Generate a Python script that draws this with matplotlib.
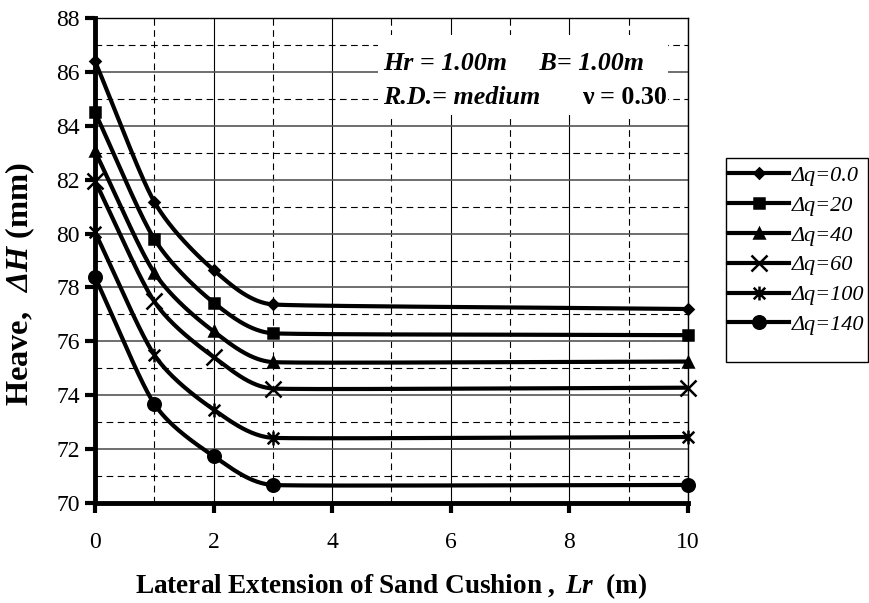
import numpy as np
import matplotlib
matplotlib.use("Agg")
from matplotlib import pyplot as plt
from matplotlib.path import Path
from matplotlib.lines import Line2D
from matplotlib.patches import Rectangle

plt.rcParams['font.family'] = ['Liberation Serif', 'DejaVu Serif']
plt.rcParams['mathtext.fontset'] = 'custom'
plt.rcParams['mathtext.rm'] = 'Liberation Serif'
plt.rcParams['mathtext.it'] = 'Liberation Serif:italic'
plt.rcParams['mathtext.bf'] = 'Liberation Serif:bold'
plt.rcParams['mathtext.bfit'] = 'Liberation Serif:bold:italic'

# data
lr = [0, 1, 2, 3, 10]
dq0 = [86.40, 81.18, 78.65, 77.37, 77.20]
dq20 = [84.50, 79.80, 77.44, 76.30, 76.23]
dq40 = [83.05, 78.55, 76.37, 75.23, 75.25]
dq60 = [81.95, 77.48, 75.42, 74.25, 74.28]
dq100 = [80.05, 75.50, 73.47, 72.42, 72.45]
dq140 = [78.38, 73.68, 71.74, 70.67, 70.67]
labels = ['Δq=0.0', 'Δq=20', 'Δq=40', 'Δq=60', 'Δq=100', 'Δq=140']

star = Path([(-1, -1), (1, 1), (-1, 1), (1, -1), (0, -1.2), (0, 1.2)],
            [Path.MOVETO, Path.LINETO, Path.MOVETO, Path.LINETO, Path.MOVETO, Path.LINETO])
markers = [('D', 5.5), ('s', 7), ('^', 7.5), ('x', 11), (star, 10), ('o', 9)]

# rough pixel size of one data unit, so the smoothing works in screen space
sx_px, sy_px = 59.0, 27.0


def smooth(x, y, n=60):
    # excel like smoothed line: bezier through points, tangent from neighbours
    p = np.column_stack([np.asarray(x, float) * sx_px, np.asarray(y, float) * sy_px])
    m = len(p)
    seg = [np.hypot(*(p[i + 1] - p[i])) for i in range(m - 1)]
    tang = np.zeros_like(p)
    for i in range(m):
        d = p[min(i + 1, m - 1)] - p[max(i - 1, 0)]
        tang[i] = d / np.hypot(*d)
    t = np.linspace(0, 1, n)[:, None]
    out = []
    for i in range(m - 1):
        p0, p3 = p[i], p[i + 1]
        a0 = min(seg[i], seg[i - 1] if i > 0 else seg[i]) / 3.0
        a1 = min(seg[i], seg[i + 1] if i + 1 < m - 1 else seg[i]) / 3.0
        p1 = p0 + tang[i] * a0
        p2 = p3 - tang[i + 1] * a1
        b = (1 - t) ** 3 * p0 + 3 * (1 - t) ** 2 * t * p1 + 3 * (1 - t) * t ** 2 * p2 + t ** 3 * p3
        out.append(b)
    out = np.vstack(out)
    return out[:, 0] / sx_px, out[:, 1] / sy_px


fig = plt.figure(figsize=(8.69, 6.03), dpi=100)
ax = fig.add_axes([0.1093, 0.1658, 0.6824, 0.8043])

series = [dq0, dq20, dq40, dq60, dq100, dq140]
handles = []
for vals, (m, ms), lab in zip(series, markers, labels):
    cx, cy = smooth(lr, vals)
    ax.plot(cx, cy, color='black', lw=3, solid_capstyle='round', zorder=4)
    ax.plot(lr, vals, ls='none', marker=m, ms=ms, color='black', mew=1.8,
            zorder=5, clip_on=False)
    handles.append(Line2D([], [], color='black', lw=3, marker=m, ms=ms, mew=1.8, label=lab))

ax.set_xlim(0, 10)
ax.set_ylim(70, 88)
ax.set_xticks(range(0, 11, 2))
ax.set_yticks(range(70, 89, 2))
ax.set_xticks(range(1, 11, 2), minor=True)
ax.set_yticks(range(71, 89, 2), minor=True)
ax.grid(which='major', axis='x', color='black', lw=0.8)
ax.grid(which='major', axis='y', color='#555555', lw=1.2)
ax.grid(which='minor', color='black', lw=0.8, ls=(0, (6, 4)))
ax.set_axisbelow(True)
ax.tick_params(which='minor', length=0)
ax.tick_params(which='major', direction='out', length=7, width=3, labelsize=17, pad=4)
ax.tick_params(axis='x', pad=14)

for s in ['left', 'bottom']:
    ax.spines[s].set_linewidth(3.5)
for s in ['top', 'right']:
    ax.spines[s].set_linewidth(1)

ax.set_xlabel(r'$\mathbf{Lateral\ Extension\ of\ Sand\ Cushion\ ,\ }\mathbfit{Lr}\mathbf{\ \ (m)}$',
              fontsize=19.6, labelpad=13)
ax.set_ylabel(r'$\mathbf{Heave,\ \ }\mathbfit{ΔH}\mathbf{\ (mm)}$', fontsize=23.3)
ax.yaxis.set_label_coords(-0.098, 0.452)

# white box behind the parameter text
ax.add_patch(Rectangle((0.477, 0.80), 0.489, 0.165, transform=ax.transAxes,
                       facecolor='white', edgecolor='none', zorder=1))
ax.text(0.486, 0.907, 'Hr = 1.00m     B= 1.00m', transform=ax.transAxes, fontsize=18.7,
        fontweight='bold', fontstyle='italic', ha='left', va='center', zorder=3)
ax.text(0.486, 0.837, 'R.D.= medium', transform=ax.transAxes, fontsize=18.7,
        fontweight='bold', fontstyle='italic', ha='left', va='center', zorder=3)
ax.text(0.821, 0.837, 'ν = 0.30', transform=ax.transAxes, fontsize=18.7,
        fontweight='bold', ha='left', va='center', zorder=3)

leg = fig.legend(handles=handles, loc='upper left', bbox_to_anchor=(0.838, 0.726),
                 prop=dict(family='Liberation Serif', style='italic', size=16),
                 frameon=False, handlelength=2.75, handletextpad=0.1,
                 labelspacing=0.42, borderpad=0, borderaxespad=0)
# legend frame, with more room at the bottom as in the original
fig.patches.append(Rectangle((726 / 869, 1 - 362 / 603), 142 / 869, 204 / 603,
                             transform=fig.transFigure, facecolor='none',
                             edgecolor='black', lw=1))

fig.savefig('out.png', dpi=100)
